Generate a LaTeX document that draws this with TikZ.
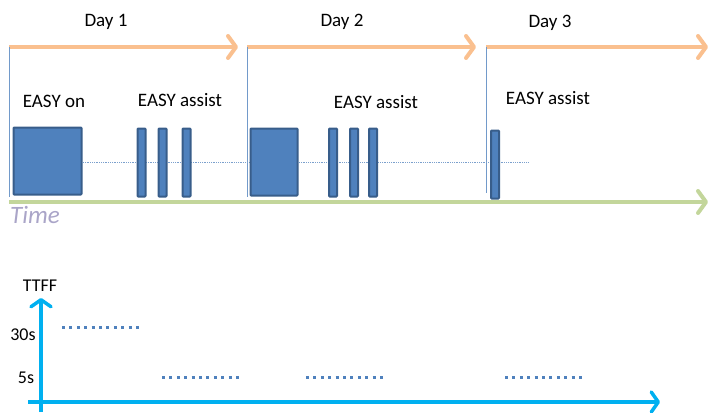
\documentclass[tikz,border=0pt]{standalone}
\usepackage{fontspec}
\setmainfont{Carlito}
\usepackage{xcolor}
\usetikzlibrary{arrows.meta,positioning,calc}

\definecolor{dayorange}{RGB}{250,192,143}
\definecolor{timegreen}{RGB}{195,214,155}
\definecolor{boxblue}{RGB}{79,129,189}
\definecolor{boxedge}{RGB}{56,93,138}
\definecolor{axiscyan}{RGB}{0,176,240}
\definecolor{timegrey}{RGB}{170,165,200}

\begin{document}
\begin{tikzpicture}[
  x=1pt, y=-1pt,
  label/.style={font=\fontsize{19}{22}\selectfont, inner sep=0pt},
  dayarrow/.style={draw=dayorange, line width=4pt, -{Straight Barb[length=8pt,width=22pt,round]}},
  timearrow/.style={draw=timegreen, line width=4pt, -{Straight Barb[length=8pt,width=22pt,round]}},
  daymark/.style={draw=boxblue!80, line width=0.8pt},
  onbox/.style={rectangle, draw=boxedge, fill=boxblue, line width=2pt, rounded corners=0.8pt, inner sep=0pt},
  bar/.style={rectangle, draw=boxedge, fill=boxblue, line width=2pt, rounded corners=0.8pt, inner sep=0pt, minimum width=8pt, minimum height=68pt},
  axis/.style={draw=axiscyan, line width=3.5pt, -{Straight Barb[length=7pt,width=20pt,round]}},
  level/.style={draw=boxblue, line width=3pt, dash pattern=on 3pt off 4.4pt}
]
\useasboundingbox (0,0) rectangle (711,412);

% days
\coordinate (d1) at (9,47);
\coordinate (d2) at (247,47);
\coordinate (d3) at (486,47);
\coordinate (d1end) at (238,47);
\coordinate (d2end) at (476,47);
\coordinate (d3end) at (708,47);
\draw[dayarrow] (d1) -- (d1end);
\draw[dayarrow] (d2) -- (d2end);
\draw[dayarrow] (d3) -- (d3end);

\node[label] (day1) at (106,22) {Day 1};
\node[label] (day2) at (342,22) {Day 2};
\node[label] (day3) at (550,23) {Day 3};

\coordinate (d1low) at (9,197);
\coordinate (d2low) at (247,197);
\coordinate (d3low) at (486,193);
\draw[daymark] (d1) -- (d1low);
\draw[daymark] (d2) -- (d2low);
\draw[daymark] (d3) -- (d3low);

% session line
\coordinate (tlstart) at (47,162);
\coordinate (tlend) at (528,162);
\draw[draw=boxblue!75, line width=0.8pt, dash pattern=on 1pt off 0.8pt] (tlstart) -- (tlend);

\node[label] (on1) at (54,101) {EASY on};
\node[label] (as1) at (180,100) {EASY assist};
\node[label] (as2) at (376,102) {EASY assist};
\node[label] (as3) at (548,98) {EASY assist};

\node[onbox, minimum width=68pt, minimum height=67pt] (onbox1) at (47.5,161) {};
\node[bar] (bar1a) at (141.5,162.5) {};
\node[bar] (bar1b) at (162.5,162.5) {};
\node[bar] (bar1c) at (186.5,162.5) {};

\node[onbox, minimum width=47pt, minimum height=67pt] (onbox2) at (274,162) {};
\node[bar] (bar2a) at (333,162.5) {};
\node[bar] (bar2b) at (354,162.5) {};
\node[bar] (bar2c) at (373,162.5) {};

\node[bar] (bar3a) at (495,164.5) {};

% time axis
\coordinate (t0) at (9,202);
\coordinate (t1) at (708,202);
\draw[timearrow] (t0) -- (t1);
\node[font=\fontsize{25}{28}\selectfont\itshape, text=timegrey, inner sep=0pt] (time) at (35,215) {Time};

% TTFF chart
\coordinate (ybot) at (41,412);
\coordinate (ytop) at (41,298);
\coordinate (xleft) at (28,402);
\coordinate (xright) at (660,402);
\draw[axis] (ybot) -- (ytop);
\draw[axis] (xleft) -- (xright);

\node[label, font=\fontsize{18}{20}\selectfont] (ttff) at (40,286) {TTFF};
\node[label, font=\fontsize{18}{20}\selectfont] (s30) at (23,335) {30s};
\node[label, font=\fontsize{18}{20}\selectfont] (s5) at (26,378) {5s};

\coordinate (l1a) at (62,327);
\coordinate (l1b) at (143,327);
\coordinate (l2a) at (162,377);
\coordinate (l2b) at (243,377);
\coordinate (l3a) at (306,377);
\coordinate (l3b) at (387,377);
\coordinate (l4a) at (505,377);
\coordinate (l4b) at (586,377);
\draw[level] (l1a) -- (l1b);
\draw[level] (l2a) -- (l2b);
\draw[level] (l3a) -- (l3b);
\draw[level] (l4a) -- (l4b);

\end{tikzpicture}
\end{document}
